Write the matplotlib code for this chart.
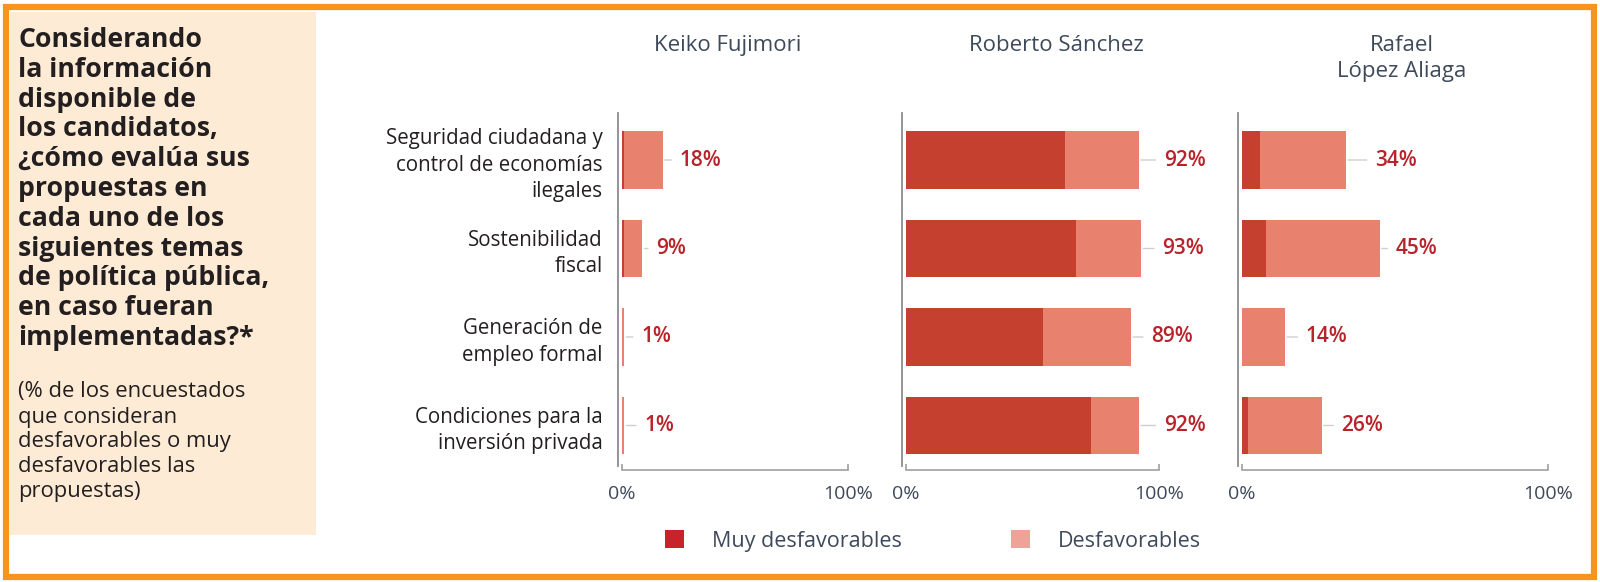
import matplotlib
matplotlib.use("Agg")
import matplotlib.pyplot as plt
from matplotlib.patches import Rectangle, Patch

plt.rcParams['font.family'] = ['Open Sans', 'DejaVu Sans']

# ---------------- data ----------------
categories = ["Seguridad ciudadana y\ncontrol de economías\nilegales",
              "Sostenibilidad\nfiscal",
              "Generación de\nempleo formal",
              "Condiciones para la\ninversión privada"]
candidates = ["Keiko Fujimori", "Roberto Sánchez", "Rafael\nLópez Aliaga"]
muy_desfavorables = {
    "Keiko Fujimori": [1, 1, 0, 0],
    "Roberto Sánchez": [63, 67, 54, 73],
    "Rafael\nLópez Aliaga": [6, 8, 0, 2],
}
desfavorables = {
    "Keiko Fujimori": [17, 8, 1, 1],
    "Roberto Sánchez": [29, 26, 35, 19],
    "Rafael\nLópez Aliaga": [28, 37, 14, 24],
}
totales = {
    "Keiko Fujimori": [18, 9, 1, 1],
    "Roberto Sánchez": [92, 93, 89, 92],
    "Rafael\nLópez Aliaga": [34, 45, 14, 26],
}
tick_labels = ["0%", "100%"]
legend_labels = ["Muy desfavorables", "Desfavorables"]
title_lines = ["Considerando", "la información", "disponible de", "los candidatos,",
               "¿cómo evalúa sus", "propuestas en", "cada uno de los",
               "siguientes temas", "de política pública,", "en caso fueran",
               "implementadas?*"]
subtitle_lines = ["(% de los encuestados", "que consideran", "desfavorables o muy",
                  "desfavorables las", "propuestas)"]

# ---------------- style / layout ----------------
W, H = 1600, 582
DARK = "#C5402F"
LIGHT = "#E8826F"
LEG_DARK = "#C8232B"
LEG_LIGHT = "#EFA398"
LABEL_RED = "#B8232A"
SLATE = "#3E4A5B"
ORANGE = "#F7941D"
BEIGE = "#FDEBD5"

# horizontal distance (pixels) from bar end to value label, per panel / row
label_gap_px = [[17, 14, 17, 20], [25, 21, 20, 25], [29, 16, 21, 20]]

fig = plt.figure(figsize=(W / 100, H / 100), dpi=100)
fig.patch.set_facecolor("white")

def fx(px):
    return px / W

def fy(py):
    return 1 - py / H

# beige side panel and orange frame
fig.add_artist(Rectangle((fx(10), fy(535)), fx(316) - fx(10), fy(12) - fy(535),
                         transform=fig.transFigure, facecolor=BEIGE, edgecolor="none", zorder=0))
fig.add_artist(Rectangle((fx(6), fy(577)), fx(1594) - fx(6), fy(7) - fy(577),
                         transform=fig.transFigure, facecolor="none", edgecolor=ORANGE,
                         linewidth=4.5, zorder=5))

# question text
for i, line in enumerate(title_lines):
    fig.text(fx(18), fy(40 + i * 29.8), line, fontsize=19.2, fontweight="bold",
             color="#231F20", ha="left", va="center")
for i, line in enumerate(subtitle_lines):
    fig.text(fx(18), fy(392 + i * 25.0), line, fontsize=15.8,
             color="#231F20", ha="left", va="center")

# panels: (x0 px, x1 px)
panels = [(622, 848), (906, 1159), (1242, 1548)]
title_x = [728, 1056, 1402]
top_px, bot_px = 113, 466
row_step = 88.5
first_center = 160
y_top = -(first_center - top_px) / row_step
y_bot = 3 + (bot_px - (first_center + 3 * row_step)) / row_step
ypos = list(range(len(categories)))

for k, (cand, (x0, x1)) in enumerate(zip(candidates, panels)):
    ax = fig.add_axes([fx(x0), fy(bot_px), fx(x1) - fx(x0), fy(top_px) - fy(bot_px)])
    ax.set_facecolor("none")
    muy = muy_desfavorables[cand]
    des = desfavorables[cand]
    tot = totales[cand]
    ax.barh(ypos, muy, height=0.655, color=DARK, edgecolor="none")
    ax.barh(ypos, des, left=muy, height=0.655, color=LIGHT, edgecolor="none")
    ax.set_xlim(0, 100)
    ax.set_ylim(y_bot, y_top)
    for y, t, gap in zip(ypos, tot, label_gap_px[k]):
        ax.annotate(f"{t}%", xy=(t, y), xytext=(gap, 0), textcoords="offset pixels",
                    ha="left", va="center", fontsize=15, fontweight="semibold",
                    color=LABEL_RED,
                    arrowprops=dict(arrowstyle="-", color="#CFCFCF", lw=1,
                                    shrinkA=4, shrinkB=1.5))
    for side in ("top", "right"):
        ax.spines[side].set_visible(False)
    ax.spines["left"].set_position(("outward", 3))
    ax.spines["left"].set_color("#8C8C8C")
    ax.spines["left"].set_linewidth(1.3)
    ax.spines["bottom"].set_position(("outward", 3))
    ax.spines["bottom"].set_color("#A0A0A0")
    ax.spines["bottom"].set_linewidth(1.2)
    ax.set_xticks([0, 100])
    ax.set_xticklabels(tick_labels)
    ax.tick_params(axis="x", direction="in", length=4, width=1.2, color="#A0A0A0",
                   labelsize=14, labelcolor=SLATE, pad=11)
    if k == 0:
        ax.set_yticks(ypos)
        ax.set_yticklabels(categories)
        ax.tick_params(axis="y", length=0, pad=11, labelsize=14.8, labelcolor="#231F20")
        for lab in ax.get_yticklabels():
            lab.set_linespacing(1.33)
    else:
        ax.set_yticks([])
    fig.text(fx(title_x[k]), fy(35), cand, fontsize=16, color=SLATE,
             ha="center", va="top", multialignment="center", linespacing=1.33)

# legend
handles = [Patch(facecolor=LEG_DARK, edgecolor="none"),
           Patch(facecolor=LEG_LIGHT, edgecolor="none")]
fig.legend(handles, legend_labels, loc="center left",
           bbox_to_anchor=(fx(646), fy(541)), ncol=2, frameon=False,
           fontsize=15.5, labelcolor=SLATE, handlelength=0.85, handleheight=0.85,
           handletextpad=1.3, columnspacing=5.1)

fig.savefig("out.png", dpi=100, facecolor="white")
